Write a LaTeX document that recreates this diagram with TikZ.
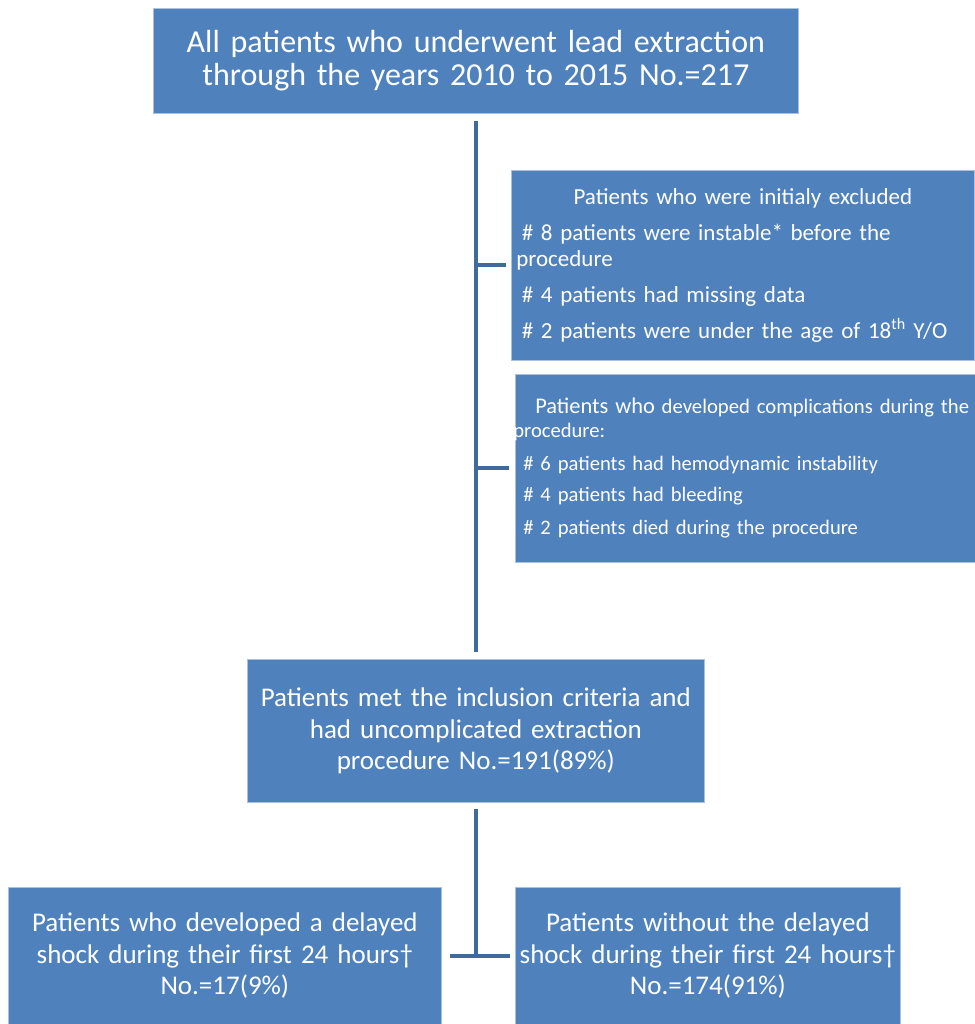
\documentclass[tikz,border=0pt]{standalone}
\usepackage{fontspec}
\setmainfont{Carlito}
\definecolor{boxblue}{HTML}{4F81BD}
\definecolor{linkblue}{HTML}{40699C}
\definecolor{edgeblue}{HTML}{A9C0DF}
\tikzset{
  flowbox/.style={fill=boxblue, draw=edgeblue, line width=0.7pt, text=white, inner sep=0pt, anchor=north west, align=center},
  link/.style={draw=linkblue, line width=4pt}
}
\begin{document}
\begin{tikzpicture}[x=1pt,y=-1pt]
\useasboundingbox (0,0) rectangle (974,1024);
\fill[white] (0,0) rectangle (974,1024);
% top box
\node[flowbox, minimum width=645pt, minimum height=105pt, text width=640pt, font=\fontsize{32}{33}\selectfont] (top) at (153,8)
  {All patients who underwent lead extraction\\through the years 2010 to 2015 No.=217};
% excluded box
\node[flowbox, minimum width=463pt, minimum height=190pt, text width=458pt, align=left, font=\fontsize{23}{26}\selectfont] (excl) at (511,170)
  {\makebox[\linewidth]{Patients who were initialy excluded}\\[10pt]
   \hspace{8pt}\# 8 patients were instable* before the\\
   \hspace{2.5pt}procedure\\[10pt]
   \hspace{8pt}\# 4 patients had missing data\\[10pt]
   \hspace{8pt}\# 2 patients were under the age of 18\textsuperscript{th} Y/O};
% complications box
\node[flowbox, minimum width=459pt, minimum height=188pt, text width=470pt, align=left, font=\fontsize{20.6}{24}\selectfont] (comp) at (515,374)
  {\hspace{20pt}{\fontsize{22.4}{24}\selectfont Patients who} {\fontsize{20.7}{24}\selectfont developed complications during the}\\
   \hspace{-2pt}procedure:\\[9pt]
   \hspace{8pt}\# 6 patients had hemodynamic instability\\[7pt]
   \hspace{8pt}\# 4 patients had bleeding\\[9pt]
   \hspace{8pt}\# 2 patients died during the procedure};
% middle box
\node[flowbox, minimum width=457pt, minimum height=143pt, text width=450pt, font=\fontsize{27}{31.5}\selectfont] (mid) at (247,659)
  {Patients met the inclusion criteria and\\had uncomplicated extraction\\procedure No.=191(89\%)};
% bottom boxes
\node[flowbox, minimum width=433pt, minimum height=137pt, text width=430pt, font=\fontsize{27}{31.5}\selectfont] (left) at (8,887)
  {Patients who developed a delayed\\shock during their first 24 hours†\\No.=17(9\%)};
\node[flowbox, minimum width=385pt, minimum height=137pt, text width=382pt, font=\fontsize{27}{31.5}\selectfont] (right) at (515,887)
  {Patients without the delayed\\shock during their first 24 hours†\\No.=174(91\%)};
% connectors
\draw[link] ([yshift=-7pt]top.south) -- ([yshift=7pt]mid.north);
\draw[link] (top.south |- excl.west) -- ([xshift=-5pt]excl.west);
\draw[link] (top.south |- comp.west) -- ([xshift=-6pt]comp.west);
\draw[link] ([yshift=-6pt]mid.south) -- (mid.south |- left.east);
\draw[link] ([xshift=8pt]left.east) -- ([xshift=-5pt]right.west);
\end{tikzpicture}
\end{document}
